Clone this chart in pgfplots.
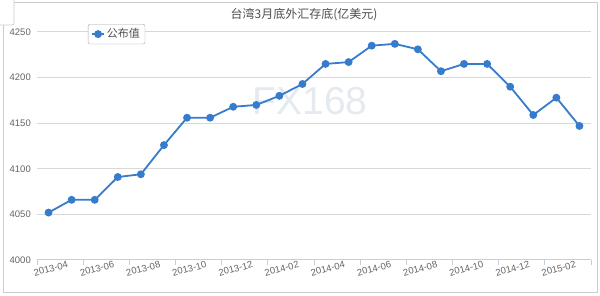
\documentclass[border=0pt]{standalone}
\usepackage{pgfplots}
\pgfplotsset{compat=1.18}
\usepackage{fontspec}
\setmainfont{Liberation Sans}
\newfontfamily\cjk{Noto Sans CJK SC}
\definecolor{serc}{RGB}{55,124,204}
\definecolor{axisc}{RGB}{192,208,224}
\definecolor{gridc}{RGB}{216,216,216}
\definecolor{labc}{RGB}{100,100,100}
\definecolor{wmc}{RGB}{228,234,240}
\definecolor{framec}{RGB}{204,204,204}
\begin{document}
\begin{tikzpicture}[x=1pt,y=1pt]
\useasboundingbox (0,0) rectangle (600,296);
\clip (0,0) rectangle (600,296);
\draw[framec, line width=1pt] (3,3) rectangle (597.5,293);
\draw[framec, line width=0.8pt, rounded corners=2pt, fill=white] (-3,271) rectangle (14,300);
\node[wmc, font=\fontsize{39}{40}\selectfont, inner sep=0pt] at (310,195) {FX168};
\node[font=\cjk\fontsize{12}{14}\selectfont, text={rgb,255:red,77;green,77;blue,77}] at (304,281) {台湾3月底外汇存底(亿美元)};
\begin{axis}[
  at={(37pt,36pt)}, anchor=south west,
  scale only axis, width=554pt, height=228pt,
  xmin=-0.5, xmax=23.5, ymin=4000, ymax=4250,
  clip=false,
  axis x line*=bottom, axis y line*=left,
  x axis line style={draw=axisc, line width=1pt, -},
  y axis line style={draw=none},
  xtick={0,2,...,22},
  xticklabels={2013-04,2013-06,2013-08,2013-10,2013-12,2014-02,2014-04,2014-06,2014-08,2014-10,2014-12,2015-02},
  minor xtick={-0.5,1.5,...,23.5},
  major tick length=0pt, minor tick length=5pt, tick align=outside,
  minor x tick style={draw=axisc, line width=1pt},
  ytick={4000,4050,...,4250},
  y tick style={draw=none},
  ymajorgrids, grid style={gridc, line width=1pt},
  /pgf/number format/assume math mode=true,
  /pgf/number format/1000 sep={},
  yticklabel style={anchor=east, inner sep=0pt, xshift=-6pt, text=labc, font=\fontsize{9.5}{11}\selectfont},
  xticklabel style={rotate=15, anchor=center, inner sep=0pt, yshift=-9pt, text=labc, font=\fontsize{9.5}{11}\selectfont},
  legend image code/.code={\draw[mark repeat=2,mark phase=2] plot coordinates {(0pt,0pt) (6pt,0pt) (12pt,0pt)};},
  legend style={at={(rel axis cs:0.092,1.035)}, anchor=north west, draw=gray!70, rounded corners=2pt, fill=white,
    font=\cjk\fontsize{11}{13}\selectfont, text={rgb,255:red,80;green,80;blue,80}, inner xsep=3pt, inner ysep=2.5pt},
]
\addplot[serc, line width=1.8pt, mark=*, mark size=3pt, mark options={solid}] coordinates {
(0,4052) (1,4066) (2,4066) (3,4091) (4,4094) (5,4126) (6,4156) (7,4156)
(8,4168) (9,4170) (10,4180) (11,4193) (12,4215) (13,4217) (14,4235) (15,4237)
(16,4231) (17,4207) (18,4215) (19,4215) (20,4190) (21,4159) (22,4178) (23,4147)
};
\addlegendentry{公布值}
\end{axis}
\end{tikzpicture}
\end{document}
